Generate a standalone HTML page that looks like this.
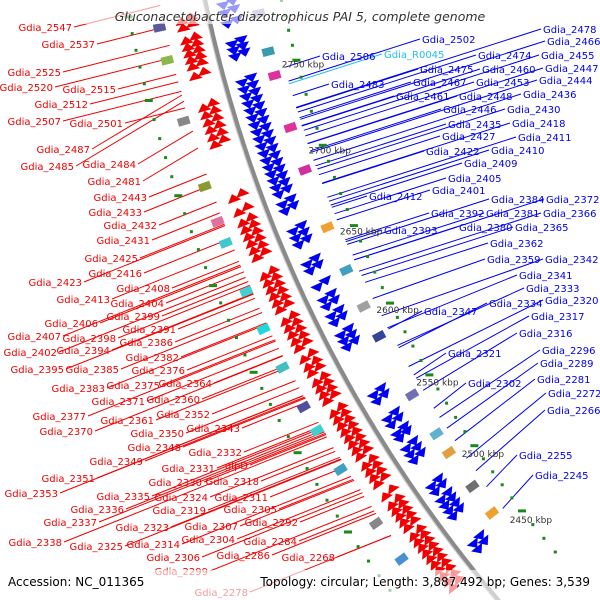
<!DOCTYPE html>
<html><head><meta charset="utf-8"><style>
html,body{margin:0;padding:0;background:#fff;width:600px;height:600px;overflow:hidden}
svg{display:block;overflow:hidden}
text{font-family:"DejaVu Sans","Liberation Sans",sans-serif}
</style></head><body>
<svg id="chart" width="600" height="600" viewBox="0 0 600 600" xmlns="http://www.w3.org/2000/svg">
<g id="lines"></g>
<g id="marks"></g>
<g id="ringg"></g>
<g id="ticks"></g>
<g id="labels"></g>
<rect x="0" y="0" width="600" height="24" fill="#fff" opacity="0.6"/>
<text x="300" y="21" text-anchor="middle" font-size="12.5" font-style="italic" fill="#333">Gluconacetobacter diazotrophicus PAI 5, complete genome</text>
<rect x="0" y="570" width="600" height="30" fill="#fff" opacity="0.6"/>
<text x="8" y="586" font-size="12" fill="#000">Accession: NC_011365</text>
<text x="590" y="586" text-anchor="end" font-size="12" fill="#000">Topology: circular; Length: 3,887,492 bp; Genes: 3,539</text>
</svg>
<script>
const NS="http://www.w3.org/2000/svg";
const kbpNodes=[2810,2750,2700,2650,2600,2550,2500,2450,2410];
const kbpY=[-15,80,170,255,337,413,488,557,615];
const CX=1535,CY=-278,R=1359;
const tickKbp=[2750,2700,2650,2600,2550,2500,2450];
const redGenes=[2792,2788,2780,2776,2772,2768,2764,2758,2740,2736,2732,2728,2724,2720,2690,2682,2676,2672,2668,2664,2660,2656,2645,2641,2637,2633,2629,2625,2618,2614,2610,2606,2602,2595,2590,2586,2580,2576,2572,2568,2560,2556,2552,2548,2544,2540,2536,2532,2526,2522,2518,2514,2506,2500,2496,2492,2488,2484,2478,2474,2470,2466,2462,2458,2454,2450,2446,2442];
const blueGenes=[2795,2790,2783,2770,2766,2762,2746,2742,2738,2734,2730,2726,2722,2718,2714,2710,2706,2702,2698,2694,2690,2686,2682,2676,2672,2660,2656,2652,2640,2636,2626,2618,2614,2608,2604,2596,2592,2588,2556,2552,2540,2536,2530,2527,2520,2516,2512,2494,2490,2484,2480,2476,2472,2452,2448];
const featKbp=[2790,2785,2770,2760,2745,2735,2715,2700,2690,2680,2668,2655,2640,2628,2618,2605,2595,2585,2570,2555,2545,2530,2518,2505,2495,2480,2470,2460];
const featSide=[-1,1,-1,1,1,-1,1,-1,1,-1,-1,1,-1,1,-1,1,-1,1,-1,-1,1,-1,1,1,-1,1,-1,1];
const featColor=["#5a5a9a","#9b9bd0","#8ab84a","#3a9ab0","#e0309a","#888","#e0309a","#8a9a30","#d0309a","#e070a0","#40c8d0","#f0a030","#40d0d0","#40a0c0","#20d8d8","#a0a0a0","#40c0c0","#334499","#5050a0","#40d0d0","#7070b0","#40a0c0","#60b0d0","#e0a040","#888","#707070","#4a90d0","#f0a030"];
function interp(xs,ys,v){
  for(let i=0;i<xs.length-1;i++){if(v<=xs[i]&&v>=xs[i+1]){const t=(v-xs[i])/(xs[i+1]-xs[i]);return ys[i]+t*(ys[i+1]-ys[i]);}}
  return v>xs[0]?ys[0]:ys[ys.length-1];
}
function ptY(y,off){const x=CX-Math.sqrt(R*R-(y-CY)*(y-CY));const nx=(CX-x)/R,ny=(CY-y)/R;return {x:x+nx*off,y:y+ny*off,nx:nx,ny:ny,tx:-ny,ty:nx};}
function kY(k){return interp(kbpNodes,kbpY,k);}
function mk(tag,attrs,parent){const e=document.createElementNS(NS,tag);for(const a in attrs)e.setAttribute(a,attrs[a]);parent.appendChild(e);return e;}
const ringG=document.getElementById('ringg');
let d="";for(let y=-20;y<=620;y+=5){const p=ptY(y,0);d+=(y===-20?"M":"L")+p.x.toFixed(1)+","+p.y.toFixed(1);}
let r1=mk('path',{d:d,stroke:'#8a8a8a','stroke-width':5,fill:'none'},ringG);


let r2=mk('path',{d:d,stroke:'#cfcfcf','stroke-width':1.2,fill:'none',transform:'translate(-2,1)'},ringG);


const marks=document.getElementById('marks');
function tri(k,off,dir,col,name){const p=ptY(kY(k),off);const s=dir;const tip=[p.x+p.tx*5*s,p.y+p.ty*5*s];const b1=[p.x-p.tx*3*s+p.nx*7,p.y-p.ty*3*s+p.ny*7];const b2=[p.x-p.tx*3*s-p.nx*7,p.y-p.ty*3*s-p.ny*7];
const e=mk('polygon',{points:tip.join(',')+' '+b1.join(',')+' '+b2.join(','),fill:col},marks);

}
redGenes.forEach(k=>{tri(k,-17,-1,'#f00000','forward-gene');tri(k-1.5,-27,-1,'#f00000','forward-gene');});
blueGenes.forEach(k=>{tri(k,17,1,'#0000f0','reverse-gene');tri(k+1.5,27,1,'#0000f0','reverse-gene');});
featKbp.forEach((k,i)=>{const off=featSide[i]*50;const p=ptY(kY(k),off);const ang=Math.atan2(p.ny,p.nx)*180/Math.PI;
const e=mk('rect',{x:-6,y:-4,width:12,height:8,fill:featColor[i],transform:`translate(${p.x.toFixed(1)},${p.y.toFixed(1)}) rotate(${ang.toFixed(1)})`},marks);

});
for(let k=2800;k>=2420;k-=10){[-78,75].forEach(off=>{const p=ptY(kY(k),off);const big=k%50===0;
const e=mk('rect',{x:(p.x-(big?4:1.5)).toFixed(1),y:(p.y-1.5).toFixed(1),width:big?8:3,height:3,fill:'#1a8a1a'},marks);

});}
const ticks=document.getElementById('ticks');
tickKbp.forEach(k=>{const p=ptY(kY(k),62);
const t=mk('text',{x:(p.x-2).toFixed(1),y:(p.y+4).toFixed(1),'font-size':9,fill:'#333'},ticks);t.textContent=k+' kbp';

});
const redLabels=[["Gdia_2547",72,27],["Gdia_2537",95,44],["Gdia_2525",61,72],["Gdia_2520",53,87],["Gdia_2515",116,89],["Gdia_2512",88,104],["Gdia_2507",61,121],["Gdia_2501",123,123],["Gdia_2487",90,149],["Gdia_2485",74,166],["Gdia_2484",136,164],["Gdia_2481",141,181],["Gdia_2443",147,197],["Gdia_2433",142,212],["Gdia_2432",157,225],["Gdia_2431",150,240],["Gdia_2425",138,258],["Gdia_2416",142,273],["Gdia_2423",82,282],["Gdia_2408",170,288],["Gdia_2413",110,299],["Gdia_2404",164,303],["Gdia_2399",160,316],["Gdia_2406",98,323],["Gdia_2391",176,329],["Gdia_2407",61,336],["Gdia_2398",116,338],["Gdia_2386",173,342],["Gdia_2402",57,352],["Gdia_2394",110,350],["Gdia_2382",179,357],["Gdia_2376",185,370],["Gdia_2395",64,369],["Gdia_2385",119,369],["Gdia_2375",160,385],["Gdia_2364",212,383],["Gdia_2383",105,388],["Gdia_2371",145,401],["Gdia_2360",200,399],["Gdia_2352",210,414],["Gdia_2377",86,416],["Gdia_2361",154,420],["Gdia_2370",93,431],["Gdia_2350",184,433],["Gdia_2343",240,428],["Gdia_2348",181,447],["Gdia_2349",143,461],["Gdia_2332",242,452],["Gdia_2331",215,468],["glpD",248,465],["Gdia_2351",95,478],["Gdia_2330",202,482],["Gdia_2318",259,481],["Gdia_2353",58,493],["Gdia_2335",150,496],["Gdia_2324",208,497],["Gdia_2311",268,497],["Gdia_2336",124,509],["Gdia_2319",206,510],["Gdia_2305",277,509],["Gdia_2337",97,522],["Gdia_2323",169,527],["Gdia_2307",238,526],["Gdia_2292",298,522],["Gdia_2338",62,542],["Gdia_2325",123,546],["Gdia_2314",180,544],["Gdia_2304",235,539],["Gdia_2284",297,541],["Gdia_2306",200,557],["Gdia_2286",270,555],["Gdia_2268",335,557],["Gdia_2299",208,571],["Gdia_2278",248,592]];
const blueLabels=[["Gdia_2478",543,29],["Gdia_2502",422,39],["Gdia_2466",547,41],["Gdia_2506",322,56],["Gdia_R0045",384,54],["Gdia_2474",478,55],["Gdia_2455",541,55],["Gdia_2475",420,69],["Gdia_2460",482,69],["Gdia_2447",545,68],["Gdia_2483",331,84],["Gdia_2467",413,82],["Gdia_2453",476,82],["Gdia_2444",539,80],["Gdia_2461",396,96],["Gdia_2448",459,96],["Gdia_2436",523,94],["Gdia_2446",443,109],["Gdia_2430",507,109],["Gdia_2435",448,124],["Gdia_2418",512,123],["Gdia_2427",442,136],["Gdia_2411",518,137],["Gdia_2422",426,151],["Gdia_2410",491,150],["Gdia_2409",464,163],["Gdia_2405",448,178],["Gdia_2401",432,190],["Gdia_2412",369,196],["Gdia_2384",491,199],["Gdia_2372",546,199],["Gdia_2392",431,213],["Gdia_2381",486,213],["Gdia_2366",543,213],["Gdia_2393",384,230],["Gdia_2380",459,227],["Gdia_2365",515,227],["Gdia_2362",490,243],["Gdia_2359",487,259],["Gdia_2342",545,259],["Gdia_2341",519,275],["Gdia_2333",526,288],["Gdia_2334",489,303],["Gdia_2320",545,300],["Gdia_2347",424,311],["Gdia_2317",531,316],["Gdia_2316",519,333],["Gdia_2321",448,353],["Gdia_2296",542,350],["Gdia_2289",540,363],["Gdia_2302",468,383],["Gdia_2281",537,379],["Gdia_2272",548,393],["Gdia_2266",547,410],["Gdia_2255",519,455],["Gdia_2245",535,475]];
const labelsG=document.getElementById('labels'),linesG=document.getElementById('lines');
function hit(x,y,dx,dy,target){const L=Math.hypot(dx,dy);dx/=L;dy/=L;let px=x,py=y;for(let i=0;i<900;i++){const dist=Math.hypot(px-CX,py-CY);if((target>R&&dist<=target)||(target<R&&dist>=target))break;px+=dx;py+=dy;}return [px,py];}
redLabels.forEach(([n,x,y])=>{
  const t=mk('text',{x:x,y:y+4,'text-anchor':'end','font-size':10,fill:'#f00000'},labelsG);t.textContent=n;
  
  
  const slope=y<140?-0.25:(y<190?-0.6:-0.4);
  const e=hit(x+2,y,1,slope,R+45);
  const l=mk('line',{x1:x+2,y1:y,x2:e[0].toFixed(1),y2:e[1].toFixed(1),stroke:'#f00000','stroke-width':1},linesG);
  
  
});
blueLabels.forEach(([n,x,y])=>{
  const cyan=n.indexOf('R')>=0;
  const t=mk('text',{x:x,y:y+4,'font-size':10,fill:cyan?'#20c0f0':'#0000f0'},labelsG);t.textContent=n;
  
  
  const slope=y<250?0.32:(0.32+(y-250)*0.0035);
  const e=hit(x-2,y,-1,slope,R-62);
  const l=mk('line',{x1:x-2,y1:y,x2:e[0].toFixed(1),y2:e[1].toFixed(1),stroke:cyan?'#20c0f0':'#0000f0','stroke-width':1},linesG);
  
  
});
</script>
</body></html>
